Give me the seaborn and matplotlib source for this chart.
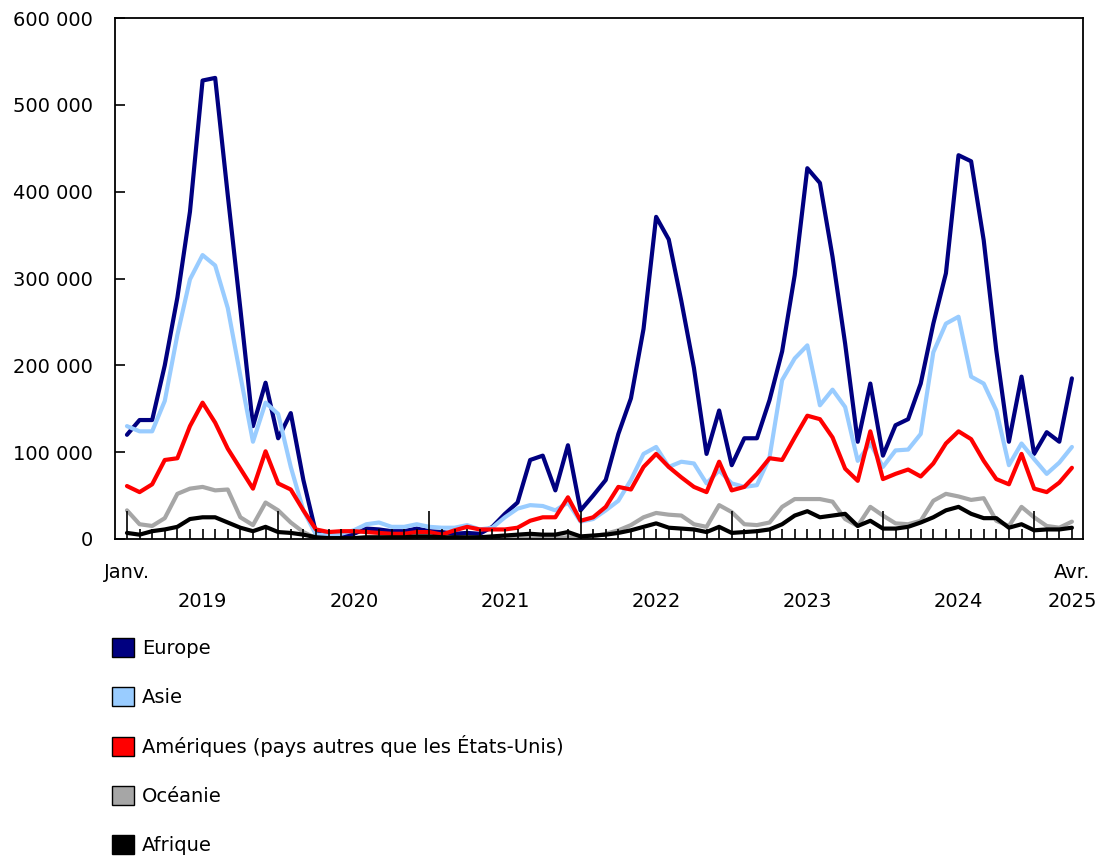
import numpy as np
import pandas as pd
import matplotlib.pyplot as plt
from matplotlib.patches import Patch
from matplotlib.ticker import FuncFormatter
import seaborn as sns

# monthly values, Jan 2019 .. Apr 2025 (thousands)
europe = [120, 137, 137, 200, 278, 377, 528, 531, 396, 265, 130, 180,
          116, 145, 68, 7, 3, 4, 6, 12, 11, 9, 9, 12,
          9, 8, 6, 7, 6, 14, 29, 42, 91, 96, 56, 108,
          33, 50, 68, 121, 162, 242, 371, 345, 274, 197, 98, 148,
          85, 116, 116, 160, 216, 304, 427, 410, 325, 225, 112, 179,
          96, 131, 138, 179, 248, 306, 442, 435, 344, 217, 112, 187,
          98, 123, 112, 185]
asie = [130, 124, 124, 159, 235, 299, 327, 315, 266, 188, 112, 157,
        144, 83, 33, 5, 4, 6, 10, 17, 19, 14, 14, 17,
        14, 13, 13, 16, 11, 13, 25, 35, 39, 38, 33, 42,
        20, 23, 33, 44, 68, 98, 106, 83, 89, 87, 64, 79,
        64, 60, 62, 94, 183, 208, 223, 154, 172, 152, 90, 110,
        83, 102, 103, 121, 215, 248, 256, 187, 179, 148, 85, 110,
        92, 75, 88, 106]
ameriques = [61, 54, 63, 91, 93, 130, 157, 134, 104, 81, 58, 101,
             64, 57, 33, 11, 8, 9, 9, 8, 7, 6, 6, 8,
             8, 5, 10, 14, 11, 11, 11, 13, 21, 25, 25, 48,
             21, 25, 37, 60, 57, 83, 98, 83, 71, 60, 54, 89,
             56, 60, 75, 93, 91, 117, 142, 138, 117, 81, 67, 124,
             69, 75, 80, 72, 87, 110, 124, 115, 90, 69, 63, 98,
             58, 54, 65, 82]
oceanie = [33, 17, 15, 24, 52, 58, 60, 56, 57, 25, 16, 42,
           33, 19, 8, 1, 0.5, 0.5, 0.5, 1, 1, 1, 1, 1,
           0.5, 0.5, 0.5, 0.5, 0.5, 1, 1, 1, 1, 1, 1, 2,
           2, 3, 6, 10, 16, 25, 30, 28, 27, 17, 14, 39,
           31, 17, 16, 19, 37, 46, 46, 46, 43, 23, 15, 37,
           27, 18, 17, 21, 44, 52, 49, 45, 47, 21, 15, 37,
           25, 15, 13, 20]
afrique = [7, 5, 9, 11, 14, 23, 25, 25, 19, 13, 9, 14,
           8, 7, 5, 2, 1, 1, 1, 2, 2, 2, 2, 3,
           3, 2, 2, 2, 2, 3, 4, 5, 6, 5, 5, 8,
           3, 4, 5, 7, 10, 14, 18, 13, 12, 11, 8, 14,
           7, 8, 9, 11, 17, 27, 32, 25, 27, 29, 15, 21,
           12, 12, 14, 19, 25, 33, 37, 29, 24, 24, 13, 17,
           10, 11, 11, 13]

regions = ["Europe", "Asie", "Amériques (pays autres que les États-Unis)",
           "Océanie", "Afrique"]
colors = ["#000080", "#99CCFF", "#FF0000", "#A6A6A6", "#000000"]
years = ["2019", "2020", "2021", "2022", "2023", "2024"]

series = [europe, asie, ameriques, oceanie, afrique]
n = len(europe)
rows = []
for name, vals in zip(regions, series):
    for i, v in enumerate(vals):
        rows.append({"mois": i, "valeur": v * 1000, "region": name})
df = pd.DataFrame(rows)

sns.set_style("white")
plt.rcParams['font.family'] = ['DejaVu Sans']
plt.rcParams['text.color'] = 'black'
plt.rcParams['axes.labelcolor'] = 'black'

fig = plt.figure(figsize=(10.98, 8.59), dpi=100)
ax = fig.add_axes([115 / 1098, 1 - 539 / 859, (1083 - 115) / 1098, (539 - 18) / 859])

sns.lineplot(data=df, x="mois", y="valeur", hue="region", hue_order=regions,
             palette=colors, linewidth=3, legend=False, ax=ax)

ax.set_axisbelow(False)
ax.set_xlim(-0.95, n - 1 + 0.88)
ax.set_ylim(0, 600000)
ax.set_xlabel("")
ax.set_ylabel("")

ax.set_yticks(np.arange(0, 600001, 100000))
ax.yaxis.set_major_formatter(FuncFormatter(lambda v, p: f"{int(v):,}".replace(",", " ")))
ax.tick_params(axis="y", left=True, direction="in", length=7, width=1.2,
               labelsize=14, pad=16, colors="black")

ax.set_xticks(np.arange(0, n, 12))
ax.set_xticks(np.arange(n), minor=True)
ax.set_xticklabels([])
ax.tick_params(axis="x", which="major", bottom=True, direction="in", length=20, width=1.2, colors="black")
ax.tick_params(axis="x", which="minor", bottom=True, direction="in", length=7, width=1.2, colors="black")

for s in ax.spines.values():
    s.set_color("black")
    s.set_linewidth(1.3)

tr = ax.get_xaxis_transform()
ax.text(0, -0.064, "Janv.", transform=tr, ha="center", va="center", fontsize=14)
ax.text(n - 1, -0.064, "Avr.", transform=tr, ha="center", va="center", fontsize=14)
for i, y in enumerate(years):
    ax.text(12 * i + 6, -0.12, y, transform=tr, ha="center", va="center", fontsize=14)
ax.text(n - 1, -0.12, "2025", transform=tr, ha="center", va="center", fontsize=14)

handles = [Patch(facecolor=c, edgecolor="black", linewidth=1) for c in colors]
fig.legend(handles, regions, loc="upper left", bbox_to_anchor=(112 / 1098, 1 - 638 / 859),
           frameon=False, fontsize=14, handlelength=1.13, handleheight=1.13,
           handletextpad=0.4, labelspacing=1.47, borderpad=0, borderaxespad=0)

fig.savefig("out.png", dpi=100)
